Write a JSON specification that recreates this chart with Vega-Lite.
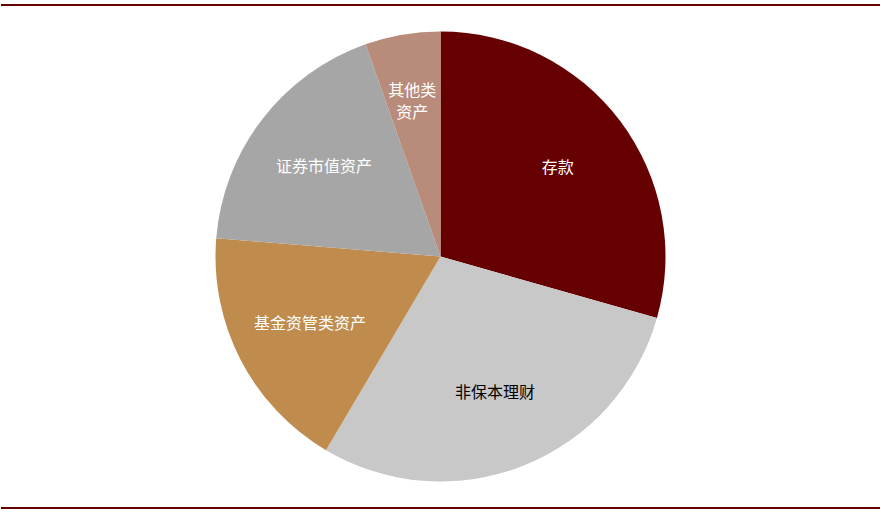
{
  "$schema": "https://vega.github.io/schema/vega-lite/v6.json",
  "width": 881,
  "height": 513,
  "autosize": {"type": "fit", "contains": "padding"},
  "padding": {"left": 0, "right": 0, "top": 4, "bottom": 4},
  "background": "white",
  "config": {"view": {"stroke": null}},
  "layer": [
    {
      "data": {
        "values": [
          {"idx": 1, "name": "存款", "label": "存款", "share": 29.4},
          {"idx": 2, "name": "非保本理财", "label": "非保本理财", "share": 29.1},
          {"idx": 3, "name": "基金资管类资产", "label": "基金资管类资产", "share": 17.8},
          {"idx": 4, "name": "证券市值资产", "label": "证券市值资产", "share": 18.3},
          {"idx": 5, "name": "其他类资产", "label": "其他类\n资产", "share": 5.4}
        ]
      },
      "encoding": {
        "theta": {"field": "share", "type": "quantitative", "stack": true},
        "order": {"field": "idx", "type": "quantitative"}
      },
      "layer": [
        {
          "mark": {"type": "arc", "outerRadius": 225},
          "encoding": {
            "color": {
              "field": "name",
              "type": "nominal",
              "legend": null,
              "scale": {
                "domain": ["存款", "非保本理财", "基金资管类资产", "证券市值资产", "其他类资产"],
                "range": ["#660000", "#c8c8c8", "#bf8c4d", "#a6a6a6", "#b98b7a"]
              }
            }
          }
        },
        {
          "mark": {"type": "text", "radius": 147, "fontSize": 16, "font": "Noto Sans CJK SC"},
          "encoding": {
            "text": {
              "condition": {"test": "datum.name === '其他类资产'", "value": ""},
              "field": "label"
            },
            "color": {
              "condition": {"test": "datum.name === '非保本理财'", "value": "#000000"},
              "value": "#ffffff"
            }
          }
        },
        {
          "mark": {
            "type": "text",
            "radius": 168,
            "fontSize": 16,
            "font": "Noto Sans CJK SC",
            "lineBreak": "\n",
            "lineHeight": 22,
            "color": "#ffffff"
          },
          "encoding": {
            "text": {
              "condition": {"test": "datum.name !== '其他类资产'", "value": ""},
              "field": "label"
            }
          }
        }
      ]
    },
    {
      "data": {"values": [{"edge": 0}, {"edge": 1}]},
      "mark": {"type": "rule", "color": "#660000", "strokeWidth": 2},
      "encoding": {
        "y": {"field": "edge", "type": "quantitative", "axis": null, "scale": {"domain": [0, 1]}}
      }
    }
  ]
}
